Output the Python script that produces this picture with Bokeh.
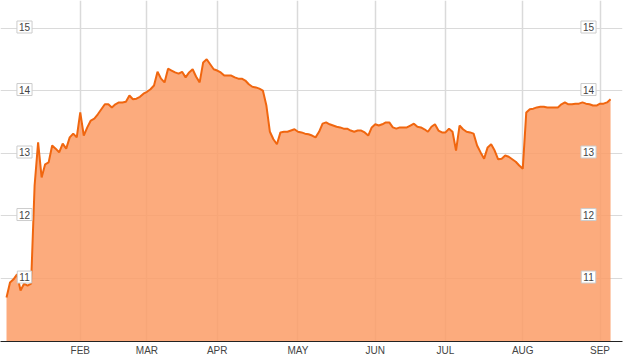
from bokeh.plotting import figure
from bokeh.models import Range1d, FixedTicker, Label
from bokeh.embed import file_html
from bokeh.resources import INLINE

# closing price per trading day
price = [
    10.69, 10.93, 10.98, 11.06, 10.80, 10.91, 10.88, 10.91, 12.48, 13.17,
    12.61, 12.82, 12.85, 13.12, 13.07, 13.01, 13.15, 13.07, 13.25, 13.31,
    13.25, 13.65, 13.28, 13.41, 13.52, 13.55, 13.62, 13.70, 13.78, 13.78,
    13.73, 13.78, 13.81, 13.81, 13.82, 13.92, 13.86, 13.87, 13.90, 13.95,
    13.98, 14.02, 14.08, 14.30, 14.19, 14.13, 14.35, 14.32, 14.29, 14.27,
    14.30, 14.21, 14.29, 14.34, 14.22, 14.13, 14.45, 14.50, 14.42, 14.34,
    14.32, 14.29, 14.24, 14.24, 14.24, 14.21, 14.19, 14.19, 14.16, 14.10,
    14.06, 14.05, 14.03, 14.00, 13.76, 13.34, 13.22, 13.14, 13.33, 13.34,
    13.34, 13.36, 13.38, 13.34, 13.33, 13.31, 13.30, 13.28, 13.25, 13.34,
    13.47, 13.49, 13.46, 13.44, 13.42, 13.41, 13.39, 13.39, 13.36, 13.34,
    13.36, 13.36, 13.33, 13.28, 13.41, 13.46, 13.44, 13.46, 13.49, 13.49,
    13.41, 13.39, 13.41, 13.41, 13.41, 13.44, 13.47, 13.42, 13.41, 13.38,
    13.34, 13.42, 13.46, 13.36, 13.33, 13.33, 13.39, 13.34, 13.04, 13.44,
    13.38, 13.34, 13.33, 13.31, 13.12, 13.01, 12.91, 13.09, 13.14, 13.04,
    12.90, 12.91, 12.96, 12.94, 12.90, 12.86, 12.80, 12.75, 13.65, 13.70,
    13.71, 13.73, 13.74, 13.74, 13.73, 13.73, 13.73, 13.73, 13.78, 13.81,
    13.78, 13.78, 13.79, 13.79, 13.81, 13.79, 13.78, 13.76, 13.76, 13.79,
    13.79, 13.81, 13.86,
]
day = list(range(len(price)))

month_days = [21, 40, 60, 83, 105, 125, 147, 169]
month_labels = ["FEB", "MAR", "APR", "MAY", "JUN", "JUL", "AUG", "SEP"]
y_ticks = [11, 12, 13, 14, 15]

FONT = "Liberation Sans"
LINE = "#f0660f"
FILL = "#fb9c66"
GRID = "#dadada"

p = figure(width=627, height=359, output_backend="svg", toolbar_location=None,
           x_range=Range1d(-1.71, 175.4), y_range=Range1d(9.985, 15.44),
           min_border_left=0, min_border_right=5, min_border_top=0,
           min_border_bottom=18)
p.outline_line_color = None
p.background_fill_color = "white"
p.border_fill_color = "white"
p.yaxis.visible = False

ax = p.xaxis[0]
ax.ticker = FixedTicker(ticks=month_days)
ax.major_label_overrides = {d: l for d, l in zip(month_days, month_labels)}
ax.major_tick_in = 0
ax.major_tick_out = 0
ax.minor_tick_in = 0
ax.minor_tick_out = 0
ax.axis_line_color = "#222222"
ax.axis_line_width = 1
ax.major_label_standoff = 3
ax.major_label_text_font = FONT
ax.major_label_text_font_size = "10px"
ax.major_label_text_color = "#444444"

p.xgrid.ticker = FixedTicker(ticks=month_days)
p.ygrid.ticker = FixedTicker(ticks=y_ticks)
p.xgrid.grid_line_color = GRID
p.ygrid.grid_line_color = GRID
p.xgrid.grid_line_width = 1.5
p.ygrid.grid_line_width = 1

p.varea(x=day, y1=[9.9] * len(day), y2=price, fill_color=FILL, fill_alpha=0.85)
p.line(day, price, line_color=LINE, line_width=2)

for t in y_ticks:
    for sx in (24, 588):
        p.add_layout(Label(x=sx, y=t, x_units="screen", y_units="data", text=str(t),
                           text_font=FONT, text_font_size="10px", text_color="#444444",
                           text_align="center", text_baseline="middle", y_offset=1,
                           background_fill_color="white", border_line_color="#cccccc",
                           padding=2))

open("out.html", "w").write(file_html(p, INLINE))
